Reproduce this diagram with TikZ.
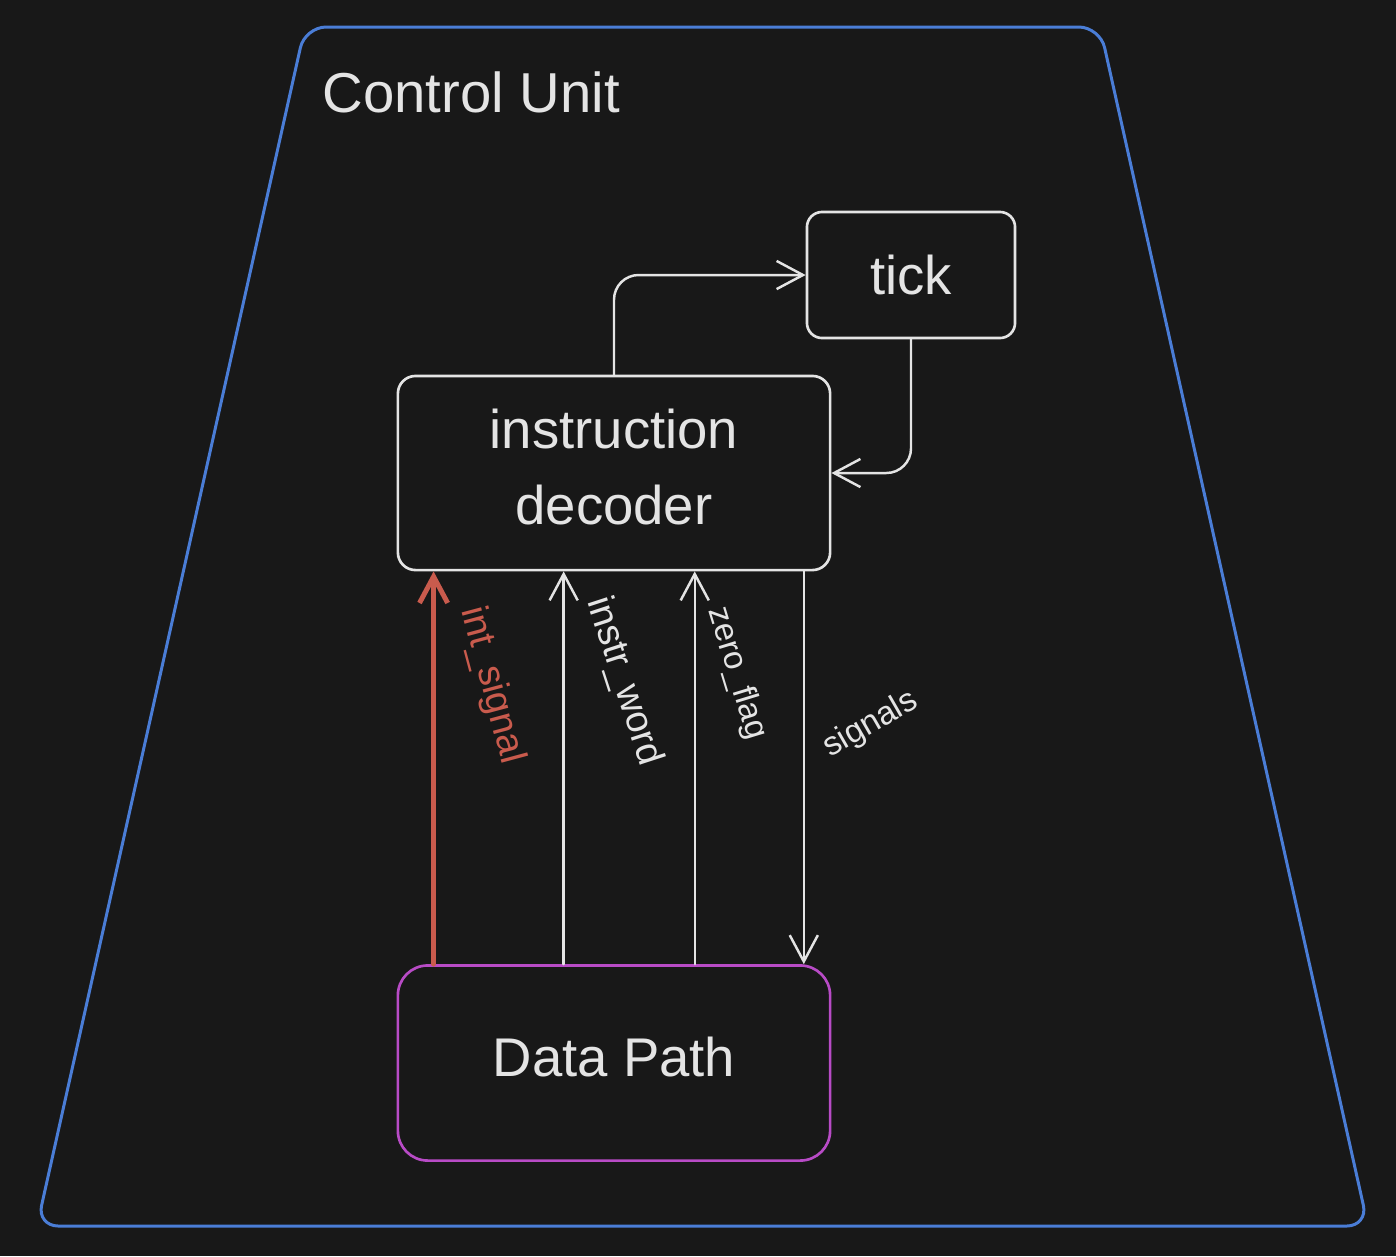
\documentclass[tikz,border=0pt]{standalone}
\usepackage{fontspec}
\setmainfont{Liberation Sans}
\usetikzlibrary{arrows.meta}
\definecolor{bgcol}{HTML}{181818}
\definecolor{fgcol}{HTML}{E4E4E4}
\definecolor{unitcol}{HTML}{4A7DD6}
\definecolor{intcol}{HTML}{C95B4D}
\definecolor{pathcol}{HTML}{B84BC6}
\tikzset{
  box/.style={draw=fgcol, line width=0.75pt, rounded corners=5pt, text=fgcol,
    inner sep=0pt, font=\fontsize{15.5}{21.6}\selectfont},
  wire/.style={draw=fgcol, line width=0.7pt, line cap=round, rounded corners=7pt,
    -{Straight Barb[length=7.5pt,width=8pt]}},
  lbl/.style={inner sep=0pt, text=fgcol, font=\fontsize{10.8}{12}\selectfont},
  smalllbl/.style={lbl, font=\fontsize{9.4}{11}\selectfont},
}
\begin{document}
\begin{tikzpicture}[x=0.01cm,y=-0.01cm]
  \fill[bgcol] (0,0) rectangle (1396,1256);
  \useasboundingbox (0,0) rectangle (1396,1256);
  % control unit outline
  \draw[unitcol, line width=0.85pt, rounded corners=6pt]
    (305,27) -- (1100,27) -- (1368,1226) -- (37,1226) -- cycle;
  \node[anchor=base west, inner sep=0pt, text=fgcol, font=\fontsize{16}{18}\selectfont]
    (title) at (322,112) {Control Unit};
  % blocks
  \node[box, rounded corners=4.3pt, minimum width=2.08cm, minimum height=1.26cm]
    (tick) at (911,275) {tick};
  \node[box, align=center, text depth=3.6pt, minimum width=4.32cm, minimum height=1.94cm]
    (decoder) at (614,473) {instruction\\decoder};
  \node[box, draw=pathcol, rounded corners=8.5pt, text depth=3.4pt,
    minimum width=4.32cm, minimum height=1.95cm]
    (datapath) at (614,1063) {Data Path};
  % clock loop
  \draw[wire] (decoder.north) |- (tick.west);
  \draw[wire] (tick.south) |- (decoder.east);
  % buses between data path and decoder
  \draw[wire, draw=intcol, line width=1.4pt]
    ([xshift=0.37cm]datapath.north west) -- ([xshift=0.37cm]decoder.south west)
    coordinate[pos=0.71] (intmid);
  \node[lbl, text=intcol, rotate=-75] (intlbl) at ([xshift=0.58cm]intmid) {int\_signal};
  \draw[wire]
    ([xshift=1.67cm]datapath.north west) -- ([xshift=1.67cm]decoder.south west)
    coordinate[pos=0.72] (instrmid);
  \node[lbl, rotate=-72] (instrlbl) at ([xshift=0.6cm]instrmid) {instr\_word};
  \draw[wire]
    ([xshift=2.98cm]datapath.north west) -- ([xshift=2.98cm]decoder.south west)
    coordinate[pos=0.74] (zeromid);
  \node[smalllbl, rotate=-73] (zerolbl) at ([xshift=0.42cm]zeromid) {zero\_flag};
  \draw[wire]
    ([xshift=4.07cm]decoder.south west) -- ([xshift=4.07cm]datapath.north west)
    coordinate[pos=0.39] (sigmid);
  \node[smalllbl, rotate=30] (siglbl) at ([xshift=0.67cm]sigmid) {signals};
\end{tikzpicture}
\end{document}
